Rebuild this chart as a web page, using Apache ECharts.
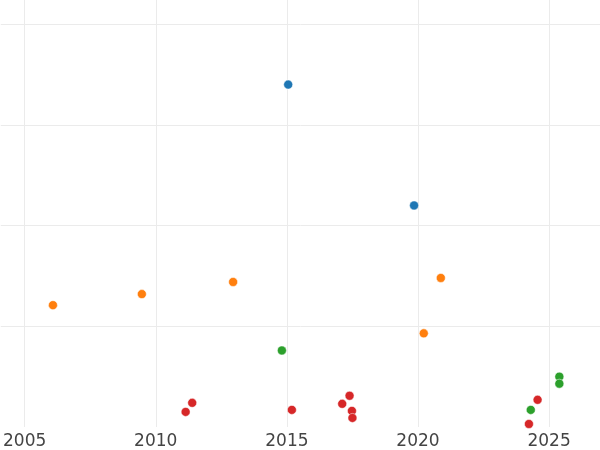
<!DOCTYPE html>
<html>
<head>
<meta charset="utf-8">
<script src="https://cdn.jsdelivr.net/npm/echarts@6/dist/echarts.min.js"></script>
<style>
  html, body { margin: 0; padding: 0; background: #fff; }
  #main { width: 600px; height: 450px; }
</style>
</head>
<body>
<div id="main"></div>
<script>
// visible window of the chart (x in years, y in grid units)
var xMin = 2004.09;
var xMax = 2026.94;
var yMin = 0;
var yMax = 4.24;

// [year, value] per group
var blueData = [[2015.05, 3.40], [2019.85, 2.20]];
var orangeData = [
  [2006.08, 1.21], [2009.47, 1.32], [2012.95, 1.44],
  [2020.87, 1.48], [2020.22, 0.93]
];
var greenData = [[2014.81, 0.76], [2025.39, 0.50], [2025.39, 0.43], [2024.30, 0.17]];
var redData = [
  [2011.14, 0.15], [2011.39, 0.24], [2015.19, 0.17],
  [2017.39, 0.31], [2017.11, 0.23], [2017.48, 0.16], [2017.50, 0.09],
  [2024.56, 0.27], [2024.23, 0.03]
];

var colors = ["#1f77b4", "#ff7f0e", "#2ca02c", "#d62728"];
var groups = [blueData, orangeData, greenData, redData];

var myChart = echarts.init(document.getElementById("main"));

var gridColor = "#ebebeb";
var none = "rgba(0,0,0,0)";

var option = {
  animation: false,
  grid: { left: 0, right: 0, top: 0, bottom: 23, containLabel: false },
  xAxis: {
    type: "value",
    min: xMin,
    max: xMax,
    axisLine: { show: false },
    axisTick: { show: false },
    axisLabel: {
      color: "#444",
      fontSize: 17,
      fontFamily: "DejaVu Sans",
      margin: 6,
      showMinLabel: false,
      showMaxLabel: false,
      formatter: function (v) {
        return Math.abs(v - Math.round(v)) < 1e-6 ? String(v) : "";
      },
    },
    // edge ticks (window min/max) get no line
    splitLine: {
      show: true,
      lineStyle: {
        color: [none, gridColor, gridColor, gridColor, gridColor, gridColor],
        width: 1,
      },
    },
  },
  yAxis: {
    type: "value",
    min: yMin,
    max: yMax,
    interval: 1,
    axisLine: { show: false },
    axisTick: { show: false },
    axisLabel: { show: false },
    splitLine: {
      show: true,
      lineStyle: {
        color: [none, gridColor, gridColor, gridColor, gridColor],
        width: 1,
      },
    },
  },
  series: groups.map(function (d, i) {
    return {
      type: "scatter",
      data: d,
      symbolSize: 9,
      clip: true,
      itemStyle: {
        color: colors[i],
        opacity: 1,
        borderColor: "#fff",
        borderWidth: 0.5,
      },
    };
  }),
};

option && myChart.setOption(option);
</script>
</body>
</html>
